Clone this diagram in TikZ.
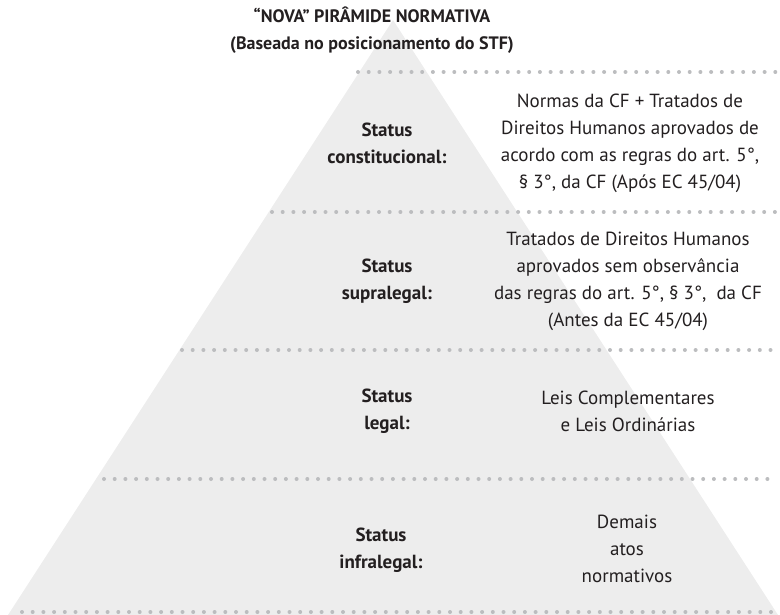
\documentclass[tikz,border=0pt]{standalone}
\usepackage{fontspec}
\setmainfont{PT Sans}
\definecolor{pyrgray}{HTML}{EDEDED}
\definecolor{dotgray}{HTML}{BCBDBF}
\definecolor{ink}{HTML}{231F20}
\begin{document}
\begin{tikzpicture}[x=1pt,y=-1pt,
  dotline/.style={draw=dotgray,line width=4pt,line cap=round,dash pattern=on 0pt off 10.7pt},
  body/.style={text=ink,align=center,inner sep=0pt,font=\fontsize{19}{27}\selectfont},
  lab/.style={body,font=\fontsize{19}{27}\selectfont\bfseries},
  ttl/.style={text=ink,align=center,inner sep=0pt,font=\fontsize{18}{27}\selectfont\bfseries}]
\useasboundingbox (0,0) rectangle (780,615);
\fill[pyrgray] (393,20) -- (778,615) -- (8,615) -- cycle;
% dotted separators
\draw[dotline] (358,72) -- (776,72);
\draw[dotline] (272,212) -- (776,212);
\draw[dotline] (182,350) -- (776,350);
\draw[dotline] (104,479) -- (776,479);
\draw[dotline] (22,612) -- (776,612);
% title
\node[ttl] (title) at (372,30.5) {“NOVA” PIRÂMIDE NORMATIVA\\(Baseada no posicionamento do STF)};
% labels
\node[lab] (l1) at (387,143.5) {Status\\constitucional:};
\node[lab] (l2) at (387,281.5) {Status\\supralegal:};
\node[lab] (l3) at (387,411.5) {Status\\legal:};
\node[lab] (l4) at (381,550) {Status\\infralegal:};
% descriptions
\node[body] (d1) at (630,143) {Normas da CF + Tratados de\\Direitos Humanos aprovados de\\acordo com as regras do art. 5°,\\§ 3°, da CF (Após EC 45/04)};
\node[body] (d2) at (628,281.5) {Tratados de Direitos Humanos\\aprovados sem observância\\das regras do art. 5°, § 3°,~ da CF\\(Antes da EC 45/04)};
\node[body] (d3) at (628,411.5) {Leis Complementares\\e Leis Ordinárias};
\node[body] (d4) at (627,549) {Demais\\atos\\normativos};
\end{tikzpicture}
\end{document}
